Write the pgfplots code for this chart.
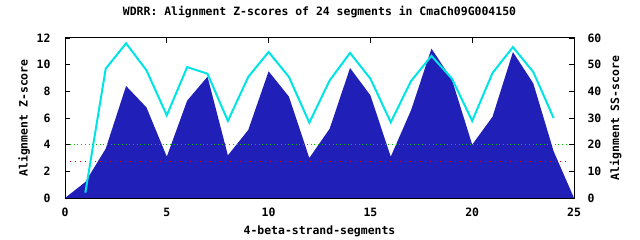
\documentclass[border=0pt]{standalone}
\usepackage{pgfplots}
\pgfplotsset{compat=1.18}
\usepackage{fontspec}
\setmainfont{DejaVu Sans Mono}
\definecolor{zfill}{RGB}{32,32,184}
\definecolor{sscol}{RGB}{0,228,228}
\definecolor{gdot}{RGB}{0,192,0}
\definecolor{rdot}{RGB}{230,0,0}
\newcommand{\gf}{\fontsize{11.5}{12}\selectfont\bfseries}
\pgfplotsset{
  common/.style={
    at={(65bp,42bp)}, anchor=south west,
    scale only axis, width=509bp, height=160bp,
    xmin=0, xmax=25,
    tick align=inside, major tick length=5bp,
    tick style={black, line width=0.8bp},
    axis line style={black, line width=1bp},
    /pgf/number format/assume math mode=true,
    ticklabel style={font=\gf},
    label style={font=\gf},
  }
}
\begin{document}
\begin{tikzpicture}
\path[use as bounding box] (0,0) rectangle (640bp,240bp);
\begin{axis}[common,
  ymin=0, ymax=12,
  xtick={0,5,...,25}, ytick={0,2,...,12},
  ytick pos=left, xtick pos=both,
  xticklabel style={anchor=center, yshift=-14bp},
  yticklabel style={anchor=east, xshift=-11bp},
  xlabel={4-beta-strand-segments},
  ylabel={Alignment Z-score},
  xlabel style={at={(axis description cs:0.5,-0.208)}, anchor=center},
  ylabel style={at={(axis description cs:-0.080,0.5)}, anchor=center},
  title={WDRR: Alignment Z-scores of 24 segments in CmaCh09G004150},
  title style={at={(axis description cs:0.5,1.125)}, anchor=center, font=\gf},
]
\addplot[fill=zfill, draw=none] coordinates {
(0,0) (1,1.2) (2,3.7) (3,8.4) (4,6.8) (5,3.1) (6,7.3) (7,9.1) (8,3.2) (9,5.1)
(10,9.5) (11,7.6) (12,3.0) (13,5.2) (14,9.75) (15,7.7) (16,3.1) (17,6.6) (18,11.2)
(19,8.9) (20,4.0) (21,6.1) (22,10.95) (23,8.6) (24,3.5) (25,0)} -- cycle;
\addplot[gdot, line width=1bp, dash pattern=on 1bp off 2.7bp] coordinates {(0.25,4) (24.75,4)};
\addplot[rdot, line width=1bp, dash pattern=on 1bp off 4bp] coordinates {(0.25,2.75) (24.75,2.75)};
\end{axis}
\begin{axis}[common,
  ymin=0, ymax=60, ytick={0,10,...,60},
  axis x line=none, axis y line*=right,
  yticklabel style={anchor=west, xshift=10bp},
  ylabel={Alignment SS-score},
  ylabel style={at={(axis description cs:1.082,0.5)}, anchor=center, rotate=0},
]
\addplot[sscol, line width=2bp, mark=none] coordinates {
(1,2) (2,48.5) (3,58) (4,47.9) (5,31) (6,49.1) (7,46.6) (8,28.9) (9,45.4) (10,54.75)
(11,45.4) (12,28.25) (13,44.1) (14,54.4) (15,44.75) (16,28.4) (17,43.9) (18,53.3)
(19,44.8) (20,28.9) (21,46.9) (22,56.6) (23,47.25) (24,30)};
\end{axis}
\end{tikzpicture}
\end{document}
